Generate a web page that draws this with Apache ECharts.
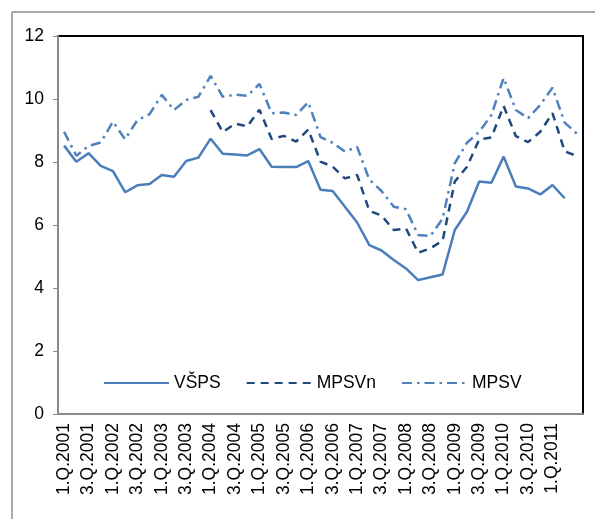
<!DOCTYPE html>
<html>
<head>
<meta charset="utf-8">
<script src="https://cdn.jsdelivr.net/npm/echarts@6/dist/echarts.min.js"></script>
<style>
html,body{margin:0;padding:0;background:#fff;}
#c{width:595px;height:519px;}
</style>
</head>
<body>
<div id="c"></div>
<script>
var categories = [];
var years = [2001,2002,2003,2004,2005,2006,2007,2008,2009,2010,2011];
years.forEach(function(y){ for (var q=1;q<=4;q++){ categories.push(q+'.Q.'+y); } });
categories = categories.slice(0, 43);

var vsps = [8.52,8.01,8.28,7.88,7.71,7.04,7.26,7.30,7.59,7.53,8.03,8.14,8.74,8.26,8.24,8.21,8.41,7.85,7.84,7.84,8.03,7.12,7.08,6.58,6.08,5.36,5.19,4.89,4.62,4.25,4.34,4.43,5.84,6.42,7.38,7.34,8.17,7.22,7.16,6.97,7.27,6.85];
var mpsvn = [null,null,null,null,null,null,null,null,null,null,null,null,9.65,8.95,9.22,9.13,9.66,8.73,8.83,8.65,9.03,8.01,7.85,7.48,7.59,6.45,6.30,5.84,5.89,5.12,5.26,5.50,7.38,7.85,8.72,8.78,9.78,8.82,8.63,8.96,9.55,8.34,8.19];
var mpsv = [8.96,8.20,8.51,8.62,9.28,8.72,9.33,9.52,10.13,9.65,9.97,10.07,10.73,10.07,10.14,10.10,10.48,9.55,9.57,9.49,9.90,8.79,8.61,8.33,8.48,7.44,7.08,6.58,6.50,5.68,5.65,6.20,7.96,8.61,8.96,9.49,10.67,9.65,9.39,9.81,10.36,9.25,8.90];
var seriesNames = ['VŠPS','MPSVn','MPSV'];
var yTicks = {min:0, max:12, step:2};

var FONT = '"Liberation Sans", Arial, sans-serif';
var chart = echarts.init(document.getElementById('c'), null, {renderer:'canvas'});
chart.setOption({
  animation: false,
  backgroundColor: '#fff',
  graphic: [
    {type:'line', shape:{x1:12,y1:12,x2:600,y2:12}, style:{stroke:'#8c8c8c', lineWidth:1.5}, silent:true},
    {type:'line', shape:{x1:12,y1:12,x2:12,y2:530}, style:{stroke:'#8c8c8c', lineWidth:1.5}, silent:true}
  ],
  grid: {left:58, right:12, top:36, bottom:105, show:true, borderColor:'#000', borderWidth:2, backgroundColor:'#fff'},
  legend: {
    left: 98, top: 369,
    itemWidth: 65, itemHeight: 14, itemGap: 25,
    itemStyle: {color:'rgba(0,0,0,0)', borderWidth:0, opacity:0},
    textStyle: {fontFamily: FONT, fontSize: 17.5, color:'#000'},
    data: seriesNames
  },
  xAxis: {
    type:'category', data: categories, boundaryGap:true,
    axisLine:{lineStyle:{color:'#8a8a8a', width:2}},
    axisTick:{interval:0, length:5, lineStyle:{color:'#8a8a8a', width:1}},
    axisLabel:{rotate:90, margin:9, color:'#000', fontFamily:FONT, fontSize:17.5,
      interval:function(i){ return i%2===0 && i<=40; }}
  },
  yAxis: {
    type:'value', min:yTicks.min, max:yTicks.max, interval:yTicks.step,
    splitLine:{show:false},
    axisLine:{show:true, lineStyle:{color:'#8a8a8a', width:2}},
    axisTick:{show:true, length:5, lineStyle:{color:'#8a8a8a', width:1}},
    axisLabel:{margin:14, color:'#000', fontFamily:FONT, fontSize:17.5}
  },
  series: [
    {name:seriesNames[0], type:'line', data:vsps, symbol:'none', connectNulls:false,
     lineStyle:{color:'#4A7EBB', width:2.5}, itemStyle:{color:'#4A7EBB'}},
    {name:seriesNames[1], type:'line', data:mpsvn, symbol:'none',
     lineStyle:{color:'#1F497D', width:2.5, type:[8,6], cap:'butt'}, itemStyle:{color:'#1F497D'}},
    {name:seriesNames[2], type:'line', data:mpsv, symbol:'none',
     lineStyle:{color:'#4F81BD', width:2.5, type:[10,5,2.5,5], cap:'butt'}, itemStyle:{color:'#4F81BD'}}
  ]
});
</script>
</body>
</html>
